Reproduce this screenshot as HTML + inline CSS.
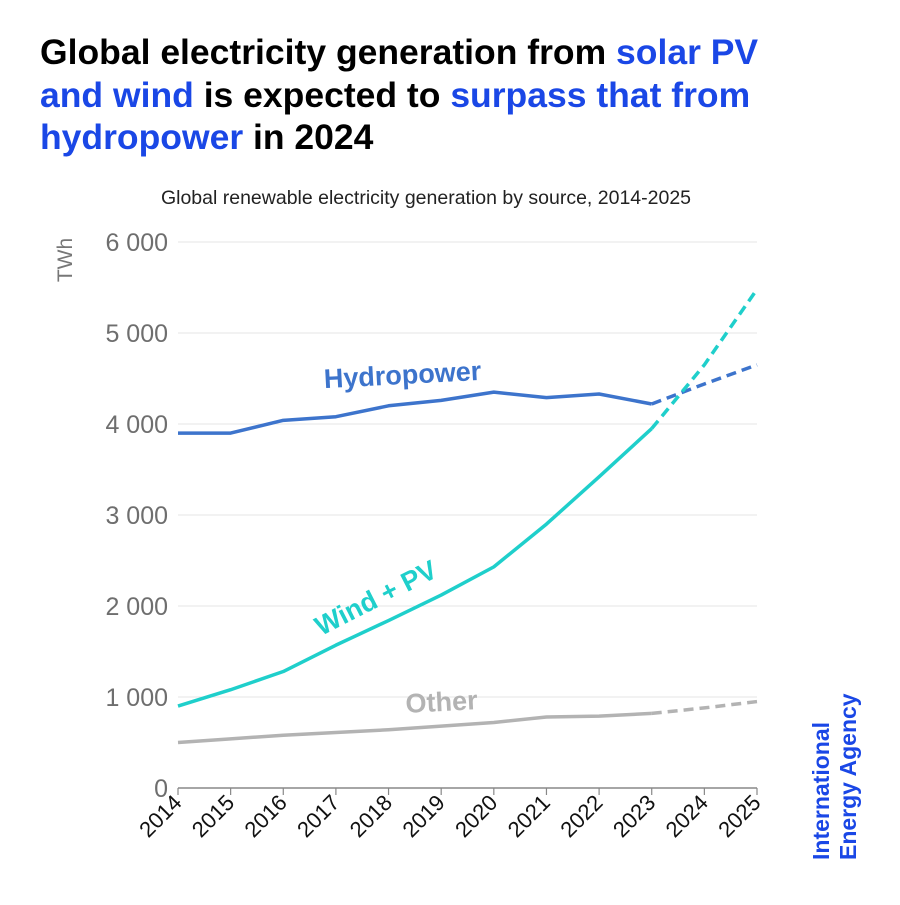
<!DOCTYPE html>
<html><head><meta charset="utf-8"><style>
html,body{margin:0;padding:0;background:#fff;}
body{width:900px;height:900px;overflow:hidden;font-family:"Liberation Sans",sans-serif;}
</style></head><body>
<svg width="900" height="900" viewBox="0 0 900 900">
<g font-family="Liberation Sans, sans-serif" font-weight="bold" font-size="35.5" fill="#000">
<text x="40" y="64">Global electricity generation from <tspan fill="#1a47e6">solar PV</tspan></text>
<text x="40" y="107"><tspan fill="#1a47e6">and wind</tspan> is expected to <tspan fill="#1a47e6">surpass that from</tspan></text>
<text x="40" y="149"><tspan fill="#1a47e6">hydropower</tspan> in 2024</text>
</g>
<text x="426" y="204" text-anchor="middle" font-size="19.5" fill="#222">Global renewable electricity generation by source, 2014-2025</text>
<text transform="translate(72,260) rotate(-90)" text-anchor="middle" font-size="21" fill="#777">TWh</text>
<g id="grid"></g><g id="axes"></g><g id="lines"></g>
<text x="403" y="384" text-anchor="middle" font-size="27" font-weight="bold" fill="#3d74cc" transform="rotate(-3 403 384)">Hydropower</text>
<text x="380" y="606" text-anchor="middle" font-size="27" font-weight="bold" fill="#1fcfcb" transform="rotate(-27 380 606)">Wind + PV</text>
<text x="442" y="711" text-anchor="middle" font-size="27" font-weight="bold" fill="#b3b3b3" transform="rotate(-3 442 711)">Other</text>
<g font-size="23" font-weight="bold" fill="#1a47e6">
<text transform="translate(829,860) rotate(-90)">International</text>
<text transform="translate(856,860) rotate(-90)">Energy Agency</text>
</g>
</svg>
<script>
const years=[2014,2015,2016,2017,2018,2019,2020,2021,2022,2023,2024,2025];
const hydro=[3900,3900,4040,4080,4200,4260,4350,4290,4330,4220,4440,4650];
const windPv=[900,1080,1280,1570,1840,2120,2430,2900,3420,3950,4650,5480];
const other=[500,540,580,610,640,680,720,780,790,820,880,950];
const yTicks=[0,1000,2000,3000,4000,5000,6000];
const yTickLabels=["0","1 000","2 000","3 000","4 000","5 000","6 000"];
const forecastStart=2023;
const NS="http://www.w3.org/2000/svg";
const x=y=>178+(y-2014)*(757-178)/11;
const yv=v=>788-v*(788-242)/6000;
function mk(t,a,p){const e=document.createElementNS(NS,t);for(const k in a)e.setAttribute(k,a[k]);p.appendChild(e);return e;}
const grid=document.getElementById('grid'),axes=document.getElementById('axes'),lines=document.getElementById('lines');
yTicks.forEach((v,i)=>{
 if(v>0){const g=mk('line',{x1:178,x2:757,y1:yv(v),y2:yv(v),stroke:'#e6e6e6','stroke-width':1},grid);
 
 }
 const t=mk('text',{x:168,y:yv(v)+9,'text-anchor':'end','font-size':25,fill:'#6e6e6e'},axes);t.textContent=yTickLabels[i];
 
 
});
const ax=mk('line',{x1:178,x2:757,y1:788,y2:788,stroke:'#888','stroke-width':1.5},axes);


years.forEach(yr=>{
 const tk=mk('line',{x1:x(yr),x2:x(yr),y1:788,y2:795,stroke:'#888','stroke-width':1.2},axes);
 
 
 const t=mk('text',{transform:`translate(${x(yr)+5},${804}) rotate(-45)`,'text-anchor':'end','font-size':22,fill:'#111'},axes);t.textContent=yr;
 
 
});
function series(vals,color,name){
 const solid=[],dash=[];
 years.forEach((yr,i)=>{const p=x(yr)+','+yv(vals[i]);if(yr<=forecastStart)solid.push(p);if(yr>=forecastStart)dash.push(p);});
 const a=mk('polyline',{points:solid.join(' '),fill:'none',stroke:color,'stroke-width':3.5,'stroke-linejoin':'round'},lines);
 
 
 const b=mk('polyline',{points:dash.join(' '),fill:'none',stroke:color,'stroke-width':3.5,'stroke-dasharray':'10 6'},lines);
 
 
}
series(other,'#b3b3b3','other');
series(hydro,'#3d74cc','hydropower');
series(windPv,'#1fcfcb','wind-pv');
</script>
</body></html>
